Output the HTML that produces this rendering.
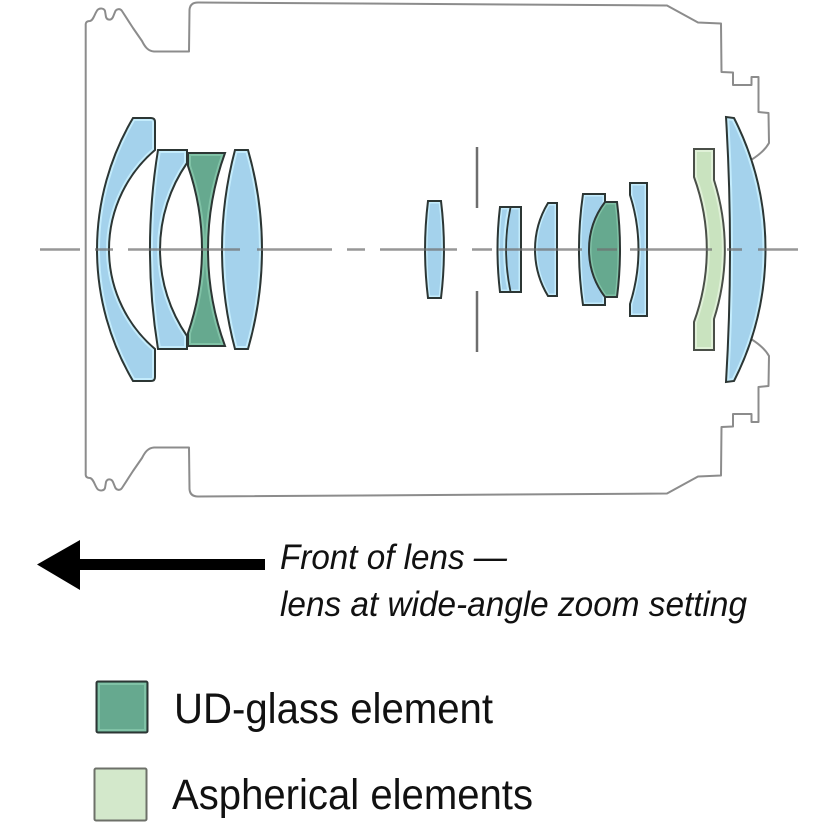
<!DOCTYPE html>
<html>
<head>
<meta charset="utf-8">
<style>
  html, body { margin: 0; padding: 0; background: #ffffff; }
  body { width: 836px; height: 836px; overflow: hidden; }
  svg { display: block; }
  text { font-family: "Liberation Sans", Arial, sans-serif; fill: #111; }
</style>
</head>
<body>
<svg width="836" height="836" viewBox="0 0 836 836" xmlns="http://www.w3.org/2000/svg">
  <defs>
    <!-- Front group -->
    <path id="e1" d="M133,118 L151,118 Q155,118 155,122 L155,150 A130.6,130.6 0 0 0 155,349 L155,377 Q155,381 151,381 L133,381 A258.2,258.2 0 0 1 133,118 Z"/>
    <path id="e2" d="M158,150 L187,150 L187,163 A152.1,152.1 0 0 0 187,336 L187,349 L158,349 A622.8,622.8 0 0 1 158,150 Z"/>
    <path id="e3" d="M188,153 L225,153 A282.4,282.4 0 0 0 225,346 L188,346 L188,333 A256,256 0 0 0 188,166 Z"/>
    <path id="e4" d="M235,150 L248,150 A360.6,360.6 0 0 1 248,349 L235,349 A387.3,387.3 0 0 1 235,150 Z"/>
    <!-- Middle group -->
    <path id="e5" d="M428,201 L441,201 A400,400 0 0 1 441,298 L428,298 A400,400 0 0 1 428,201 Z"/>
    <path id="e6" d="M500,207 L521,207 L521,292 L500,292 A362,362 0 0 1 500,207 Z"/>
    <path id="e7" d="M548,203 L557,203 L557,296 L548,296 A89.7,89.7 0 0 1 548,203 Z"/>
    <path id="e8" d="M583,194 L605,194 L605,305 L583,305 A387,387 0 0 1 583,194 Z"/>
    <path id="e8g" d="M605,202 L617,202 A377.5,377.5 0 0 1 617,297 L605,297 A78.5,78.5 0 0 1 605,202 Z"/>
    <path id="e9" d="M630,183 L647,183 L647,316 L630,316 L630,304 A179,179 0 0 0 630,195 Z"/>
    <!-- Rear group -->
    <path id="e10" d="M694,149 L714,149 L714,180 A228.2,228.2 0 0 1 714,319 L714,350 L694,350 L694,322 A211.5,211.5 0 0 0 694,177 Z"/>
    <path id="e11" d="M726,117 L734,118 A290.3,290.3 0 0 1 734,381 L726,382 A2196,2196 0 0 0 726,117 Z"/>

    <clipPath id="c1"><use href="#e1"/></clipPath>
    <clipPath id="c2"><use href="#e2"/></clipPath>
    <clipPath id="c3"><use href="#e3"/></clipPath>
    <clipPath id="c4"><use href="#e4"/></clipPath>
    <clipPath id="c5"><use href="#e5"/></clipPath>
    <clipPath id="c6"><use href="#e6"/></clipPath>
    <clipPath id="c7"><use href="#e7"/></clipPath>
    <clipPath id="c8"><use href="#e8"/></clipPath>
    <clipPath id="c8g"><use href="#e8g"/></clipPath>
    <clipPath id="c9"><use href="#e9"/></clipPath>
    <clipPath id="c10"><use href="#e10"/></clipPath>
    <clipPath id="c11"><use href="#e11"/></clipPath>
  </defs>

  <!-- Lens barrel outline -->
  <g fill="none" stroke="#8c8c8c" stroke-width="2" stroke-linejoin="round">
    <path id="outline" d="M85.7,249.5 L85.7,24 Q86,21 90,21 C94,20 95,12 98,9.5 C100,8 104,8 105,11 L106,17 C107,20 111,21 113,17 L115,12 C116,9 120,8 122,11 L133,28 L142,41 C145,47 148,51 154,51.5 L189,51.5 L189.5,10 Q190,2.5 198,2.5 L667,5.5 L698,22.5 L721,23.5 L721.5,72 L733,72.5 L733,85 L751.5,85 L751.5,77 L758.5,77 L758.5,112 L768.5,113 L769,143 Q764,152 751,160"/>
    <use href="#outline" transform="matrix(1,0,0,-1,0,499)"/>
  </g>

  <!-- Elements -->
  <g>
    <use href="#e1" fill="#a4d2ec"/>
    <use href="#e1" fill="none" stroke="#c4ecfc" stroke-width="6" clip-path="url(#c1)"/>
    <use href="#e1" fill="none" stroke="#2c3634" stroke-width="2"/>

    <use href="#e2" fill="#a4d2ec"/>
    <use href="#e2" fill="none" stroke="#c4ecfc" stroke-width="6" clip-path="url(#c2)"/>
    <use href="#e2" fill="none" stroke="#2c3634" stroke-width="2"/>

    <use href="#e3" fill="#66a98f"/>
    <use href="#e3" fill="none" stroke="#80c2a6" stroke-width="6" clip-path="url(#c3)"/>
    <use href="#e3" fill="none" stroke="#2c3634" stroke-width="2"/>

    <use href="#e4" fill="#a4d2ec"/>
    <use href="#e4" fill="none" stroke="#c4ecfc" stroke-width="6" clip-path="url(#c4)"/>
    <use href="#e4" fill="none" stroke="#2c3634" stroke-width="2"/>

    <use href="#e5" fill="#a4d2ec"/>
    <use href="#e5" fill="none" stroke="#c4ecfc" stroke-width="5" clip-path="url(#c5)"/>
    <use href="#e5" fill="none" stroke="#2c3634" stroke-width="2"/>

    <use href="#e6" fill="#a4d2ec"/>
    <use href="#e6" fill="none" stroke="#c4ecfc" stroke-width="5" clip-path="url(#c6)"/>
    <path d="M509,207.5 A202.9,202.9 0 0 0 509,291.5" fill="none" stroke="#c4ecfc" stroke-width="3"/>
    <path d="M510.5,207.5 A202.9,202.9 0 0 0 510.5,291.5" fill="none" stroke="#2c3634" stroke-width="1.8"/>
    <use href="#e6" fill="none" stroke="#2c3634" stroke-width="2"/>

    <use href="#e7" fill="#a4d2ec"/>
    <use href="#e7" fill="none" stroke="#c4ecfc" stroke-width="5" clip-path="url(#c7)"/>
    <use href="#e7" fill="none" stroke="#2c3634" stroke-width="2"/>

    <use href="#e8" fill="#a4d2ec"/>
    <use href="#e8" fill="none" stroke="#c4ecfc" stroke-width="5" clip-path="url(#c8)"/>
    <use href="#e8" fill="none" stroke="#2c3634" stroke-width="2"/>

    <use href="#e8g" fill="#66a98f"/>
    <use href="#e8g" fill="none" stroke="#80c2a6" stroke-width="5" clip-path="url(#c8g)"/>
    <use href="#e8g" fill="none" stroke="#2c3634" stroke-width="2"/>

    <use href="#e9" fill="#a4d2ec"/>
    <use href="#e9" fill="none" stroke="#c4ecfc" stroke-width="5" clip-path="url(#c9)"/>
    <use href="#e9" fill="none" stroke="#2c3634" stroke-width="2"/>

    <use href="#e10" fill="#c9e3bf"/>
    <use href="#e10" fill="none" stroke="#e0f1d8" stroke-width="6" clip-path="url(#c10)"/>
    <use href="#e10" fill="none" stroke="#4a4f48" stroke-width="2"/>

    <use href="#e11" fill="#a4d2ec"/>
    <use href="#e11" fill="none" stroke="#c4ecfc" stroke-width="6" clip-path="url(#c11)"/>
    <use href="#e11" fill="none" stroke="#2c3634" stroke-width="2"/>
  </g>

  <!-- Aperture stop -->
  <g stroke="#6e6e6e" stroke-width="2.5">
    <line x1="477" y1="147" x2="477" y2="208"/>
    <line x1="477" y1="291" x2="477" y2="352"/>
  </g>

  <!-- Optical axis (dash-dot) -->
  <g stroke="#6f6f6f" stroke-opacity="0.72" stroke-width="2.6">
    <line x1="40" y1="249.5" x2="80" y2="249.5"/>
    <line x1="95" y1="249.5" x2="113" y2="249.5"/>
    <line x1="128" y1="249.5" x2="240" y2="249.5"/>
    <line x1="257" y1="249.5" x2="332" y2="249.5"/>
    <line x1="347" y1="249.5" x2="365" y2="249.5"/>
    <line x1="380" y1="249.5" x2="457" y2="249.5"/>
    <line x1="472" y1="249.5" x2="492" y2="249.5"/>
    <line x1="498" y1="249.5" x2="582" y2="249.5"/>
    <line x1="597" y1="249.5" x2="617" y2="249.5"/>
    <line x1="630" y1="249.5" x2="712" y2="249.5"/>
    <line x1="727" y1="249.5" x2="742" y2="249.5"/>
    <line x1="758" y1="249.5" x2="798" y2="249.5"/>
  </g>

  <!-- Arrow -->
  <path d="M37,564.5 L80,540 L80,559 L265,559 L265,570 L80,570 L80,590 Z" fill="#000"/>

  <!-- Caption -->
  <text x="280" y="569" font-size="35" font-style="italic" textLength="227" lengthAdjust="spacingAndGlyphs">Front of lens —</text>
  <text x="280" y="616" font-size="35" font-style="italic" textLength="467" lengthAdjust="spacingAndGlyphs">lens at wide-angle zoom setting</text>

  <!-- Legend -->
  <rect x="96.5" y="681.5" width="51" height="51" rx="1.5" fill="#66a98f" stroke="#2c3634" stroke-width="2"/>
  <rect x="99" y="684" width="46" height="46" fill="none" stroke="#80c2a6" stroke-width="2"/>
  <text x="174" y="723" font-size="43" textLength="319" lengthAdjust="spacingAndGlyphs">UD-glass element</text>

  <rect x="94.5" y="768.5" width="52" height="52" rx="1.5" fill="#d3e8cb" stroke="#6d7069" stroke-width="2"/>
  <text x="172" y="809" font-size="43" textLength="361" lengthAdjust="spacingAndGlyphs">Aspherical elements</text>
</svg>
</body>
</html>
